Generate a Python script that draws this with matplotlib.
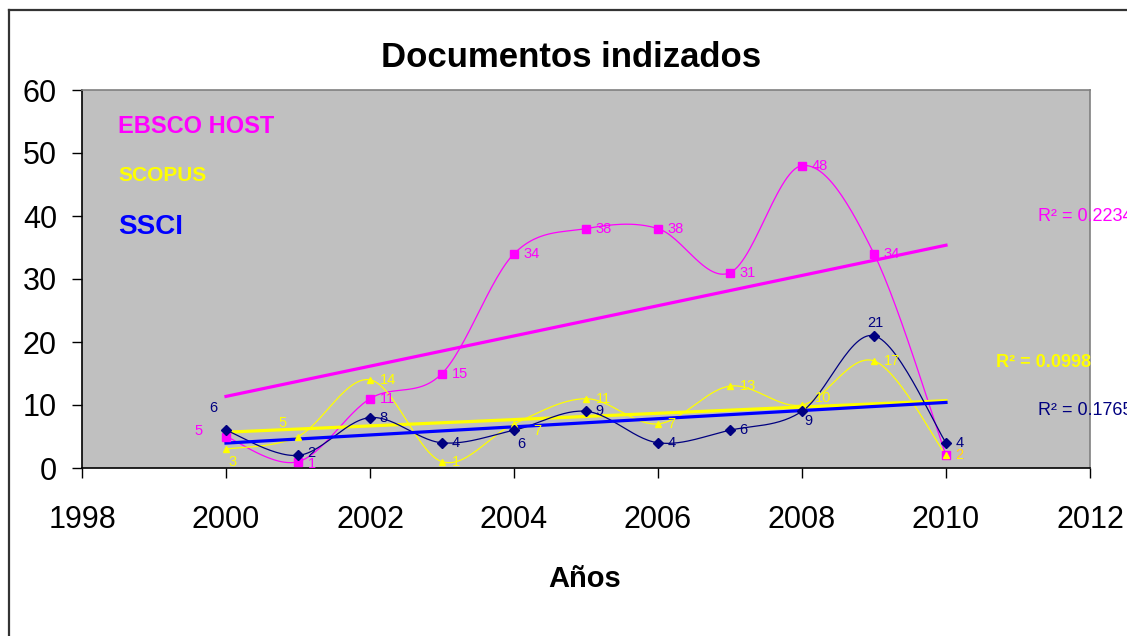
import numpy as np
import matplotlib
matplotlib.use("Agg")
import matplotlib.pyplot as plt
from matplotlib.lines import Line2D

plt.rcParams['font.family'] = ['Liberation Sans', 'DejaVu Sans']

years = [2000, 2001, 2002, 2003, 2004, 2005, 2006, 2007, 2008, 2009, 2010]
ebsco = [5, 1, 11, 15, 34, 38, 38, 31, 48, 34, 2]
scopus = [3, 5, 14, 1, 7, 11, 7, 13, 10, 17, 2]
ssci = [6, 2, 8, 4, 6, 9, 4, 6, 9, 21, 4]

W, H = 1127, 636


def smooth(x, y, n=30):
    # excel-like smoothed line (catmull-rom bezier)
    x = np.asarray(x, float)
    y = np.asarray(y, float)
    px = np.concatenate([[x[0]], x, [x[-1]]])
    py = np.concatenate([[y[0]], y, [y[-1]]])
    xs, ys = [], []
    t = np.linspace(0, 1, n)
    for i in range(1, len(px) - 2):
        p0 = np.array([px[i], py[i]])
        p3 = np.array([px[i + 1], py[i + 1]])
        p1 = p0 + (np.array([px[i + 1], py[i + 1]]) - np.array([px[i - 1], py[i - 1]])) / 6
        p2 = p3 - (np.array([px[i + 2], py[i + 2]]) - np.array([px[i], py[i]])) / 6
        b = ((1 - t) ** 3)[:, None] * p0 + (3 * (1 - t) ** 2 * t)[:, None] * p1 \
            + (3 * (1 - t) * t ** 2)[:, None] * p2 + (t ** 3)[:, None] * p3
        xs.extend(b[:, 0])
        ys.extend(b[:, 1])
    return xs, ys


fig = plt.figure(figsize=(W / 100, H / 100), dpi=100)
ax = fig.add_axes([82 / W, 1 - 468 / H, (1090 - 82) / W, (468 - 90) / H])
ax.set_facecolor('#C0C0C0')

series = [
    (ebsco, '#FF00FF', '#FF00FF', 's', 5.5, '#FF00FF'),
    (scopus, '#FFFF00', '#FFFF00', '^', 5, '#FFFF00'),
    (ssci, '#000080', '#0000FF', 'D', 5, '#000080'),
]

# label offsets in points (default: right of point)
offsets = {
    0: {0: (-23, 4), 1: (7, -2)},
    1: {0: (2, -9), 1: (-14, 10), 4: (14, -5), 8: (9, 5)},
    2: {0: (-12, 16), 1: (7, 2), 4: (2, -10), 8: (2, -7), 9: (-5, 9)},
}

for k, (vals, col, tcol, mk, ms, lcol) in enumerate(series):
    sx, sy = smooth(years, vals)
    ax.plot(sx, sy, color=col, lw=0.9, zorder=3)
    ax.plot(years, vals, ls='none', marker=mk, ms=ms, color=col, zorder=4)
    a, b = np.polyfit(years, vals, 1)
    ax.plot([years[0], years[-1]], [a * years[0] + b, a * years[-1] + b],
            color=tcol, lw=2.3, zorder=3 + (0.5 if k == 2 else 0))
    for i, (xv, yv) in enumerate(zip(years, vals)):
        dx, dy = offsets[k].get(i, (7, 0))
        ax.annotate(str(yv), (xv, yv), xytext=(dx, dy), textcoords='offset points',
                    ha='left', va='center', fontsize=10.5, color=lcol, zorder=5)

ax.set_xlim(1998, 2012)
ax.set_ylim(0, 60)
ax.set_xticks(range(1998, 2013, 2))
ax.set_yticks(range(0, 61, 10))
ax.tick_params(axis='x', direction='out', length=7, width=1, pad=20, labelsize=22)
ax.tick_params(axis='y', direction='out', length=7, width=1, pad=11, labelsize=22)
ax.spines['left'].set_color('black')
ax.spines['bottom'].set_color('black')
ax.spines['top'].set_color('#808080')
ax.spines['right'].set_color('#808080')
for s in ax.spines.values():
    s.set_linewidth(1.2)

fig.text(571 / W, 1 - 67 / H, 'Documentos indizados', ha='center', va='baseline',
         fontsize=25, fontweight='bold')
fig.text(585 / W, 1 - 587 / H, 'Años', ha='center', va='baseline',
         fontsize=21, fontweight='bold')

fig.text(118 / W, 1 - 133 / H, 'EBSCO HOST', ha='left', va='baseline', fontsize=17,
         fontweight='bold', color='#FF00FF')
fig.text(118 / W, 1 - 181 / H, 'SCOPUS', ha='left', va='baseline', fontsize=15,
         fontweight='bold', color='#FFFF00')
fig.text(118 / W, 1 - 234 / H, 'SSCI', ha='left', va='baseline', fontsize=20,
         fontweight='bold', color='#0000FF')

fig.text(1038 / W, 1 - 221 / H, 'R² = 0.2234', ha='left', va='baseline', fontsize=13,
         color='#FF00FF')
fig.text(996 / W, 1 - 367 / H, 'R² = 0.0998', ha='left', va='baseline', fontsize=13,
         fontweight='bold', color='#FFFF00')
fig.text(1038 / W, 1 - 415 / H, 'R² = 0.1765', ha='left', va='baseline', fontsize=13,
         color='#000080')

# outer chart border
fig.add_artist(Line2D([9 / W, 9 / W], [0, 1 - 10 / H], color='#333333', lw=1.6))
fig.add_artist(Line2D([9 / W, 1], [1 - 10 / H, 1 - 10 / H], color='#333333', lw=1.6))

fig.savefig('out.png', dpi=100)
